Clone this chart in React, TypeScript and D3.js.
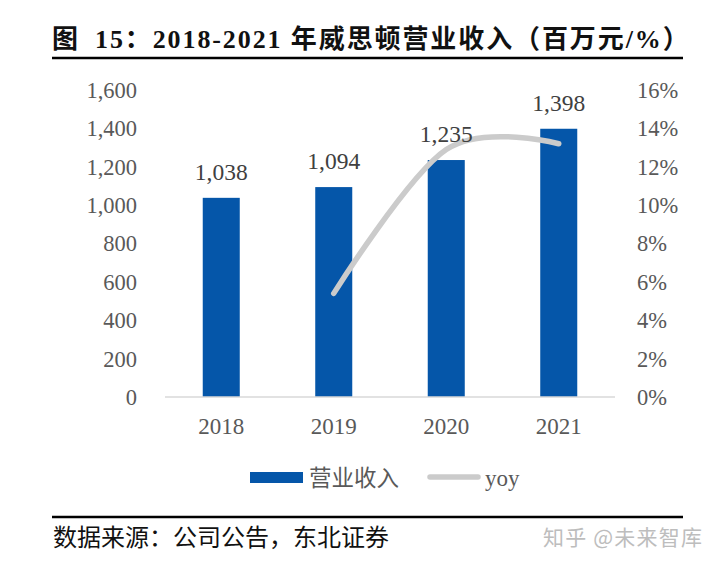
import React from "react";
import * as d3 from "d3";

const years = ["2018", "2019", "2020", "2021"];
const revenue = [1038, 1094, 1235, 1398];
const yoy: (number | null)[] = [null, 5.4, 12.9, 13.2];
const leftTicks = [0, 200, 400, 600, 800, 1000, 1200, 1400, 1600];
const rightTicks = [0, 2, 4, 6, 8, 10, 12, 14, 16];
const titleLead = "图";
const titleRest = "15：2018-2021 年威思顿营业收入（百万元/%）";
const legendBar = "营业收入";
const legendLine = "yoy";
const sourceText = "数据来源：公司公告，东北证券";
const watermark = "知乎 @未来智库";

const W = 718;
const H = 568;
const serif = "'Liberation Serif', 'Times New Roman', 'Noto Sans CJK SC', serif";
const cjk = "'Noto Sans CJK SC', sans-serif";
const grey = "#595959";
const blue = "#0556a9";

export default function App() {
  const x = d3
    .scaleBand<string>()
    .domain(years)
    .range([165, 615])
    .paddingInner(0.671)
    .paddingOuter(0.3355);
  const yL = d3.scaleLinear().domain([0, 1600]).range([397, 90]);
  const yR = d3.scaleLinear().domain([0, 16]).range([397, 90]);
  const fmt = d3.format(",");

  const pts = years
    .map((yr, i) => ({ yr, v: yoy[i] }))
    .filter((d) => d.v !== null) as { yr: string; v: number }[];
  const line = d3
    .line<{ yr: string; v: number }>()
    .x((d) => (x(d.yr) as number) + x.bandwidth() / 2)
    .y((d) => yR(d.v))
    .curve(d3.curveCardinal.tension(0));

  return (
    <svg
      width={W}
      height={H}
      viewBox={`0 0 ${W} ${H}`}
      style={{ position: "fixed", left: 0, top: 0, background: "#fff", display: "block" }}
    >
      <rect x={0} y={0} width={W} height={H} fill="#fff" />
      {/* Title */}
      <text x={52} y={48} fontFamily={serif} fontWeight="bold" fontSize={26} fill="#111">
        {titleLead}
      </text>
      <text
        x={95}
        y={48}
        fontFamily={serif}
        fontWeight="bold"
        fontSize={26}
        fill="#111"
        letterSpacing={1.9}
      >
        {titleRest}
      </text>
      <line x1={52} x2={683} y1={58} y2={58} stroke="#000" strokeWidth={2.5} />

      {/* Left axis ticks */}
      {leftTicks.map((t) => (
        <text
          key={"l" + t}
          x={137}
          y={yL(t)}
          dy="0.35em"
          textAnchor="end"
          fontFamily={serif}
          fontSize={22.5}
          fill={grey}
        >
          {fmt(t)}
        </text>
      ))}
      {/* Right axis ticks */}
      {rightTicks.map((t) => (
        <text
          key={"r" + t}
          x={637}
          y={yR(t)}
          dy="0.35em"
          textAnchor="start"
          fontFamily={serif}
          fontSize={22.5}
          fill={grey}
        >
          {t + "%"}
        </text>
      ))}

      {/* Bars */}
      {years.map((yr, i) => (
        <rect
          key={"b" + yr}
          x={x(yr)}
          y={yL(revenue[i])}
          width={x.bandwidth()}
          height={yL(0) - yL(revenue[i])}
          fill={blue}
        />
      ))}

      {/* Axis line */}
      <line x1={165} x2={615} y1={yL(0)} y2={yL(0)} stroke="#d9d9d9" strokeWidth={1.5} />

      {/* X labels */}
      {years.map((yr) => (
        <text
          key={"x" + yr}
          x={(x(yr) as number) + x.bandwidth() / 2}
          y={434}
          textAnchor="middle"
          fontFamily={serif}
          fontSize={23}
          fill={grey}
        >
          {yr}
        </text>
      ))}

      {/* yoy line */}
      <path
        d={line(pts) || ""}
        fill="none"
        stroke="#cbcbcb"
        strokeWidth={5.5}
        strokeLinecap="round"
        strokeLinejoin="round"
      />

      {/* Value labels */}
      {years.map((yr, i) => (
        <text
          key={"v" + yr}
          x={(x(yr) as number) + x.bandwidth() / 2}
          y={yL(revenue[i]) - 18}
          textAnchor="middle"
          fontFamily={serif}
          fontSize={23.5}
          fill="#404040"
        >
          {fmt(revenue[i])}
        </text>
      ))}

      {/* Legend */}
      <rect x={250} y={472} width={53} height={11} fill={blue} />
      <text x={309} y={486} fontFamily={serif} fontSize={22.5} fill={grey}>
        {legendBar}
      </text>
      <line x1={430} x2={478} y1={477} y2={477} stroke="#cbcbcb" strokeWidth={5.5} strokeLinecap="round" />
      <text x={485} y={486} fontFamily={serif} fontSize={23} fill={grey}>
        {legendLine}
      </text>

      {/* Footer */}
      <line x1={52} x2={683} y1={517} y2={517} stroke="#000" strokeWidth={2.5} />
      <text x={53} y={546} fontFamily={serif} fontSize={24} fill="#111">
        {sourceText}
      </text>
      <text x={543} y={545} fontFamily={cjk} fontSize={21} fill="#bdbdbd" letterSpacing={1.2}>
        {watermark}
      </text>
    </svg>
  );
}
